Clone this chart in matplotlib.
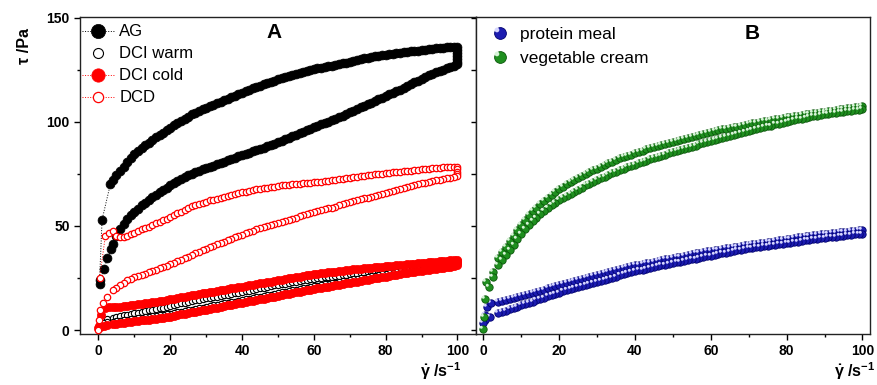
import matplotlib
matplotlib.use('Agg')
import matplotlib.pyplot as plt
from matplotlib.path import Path
from matplotlib.legend_handler import HandlerTuple

plt.rcParams['font.family'] = ['Liberation Sans', 'DejaVu Sans']
plt.rcParams['mathtext.fontset'] = 'custom'
plt.rcParams['mathtext.rm'] = 'Liberation Sans'
plt.rcParams['mathtext.bf'] = 'Liberation Sans:bold'
plt.rcParams['mathtext.it'] = 'Liberation Sans:italic'

# ---------------- data ----------------
rate = [4, 5, 6, 7, 8, 9, 10, 11, 12, 13, 14, 15, 16, 17, 18, 19, 20, 21, 22, 23, 24,
        25, 26, 27, 28, 29, 30, 31, 32, 33, 34, 35, 36, 37, 38, 39, 40, 41, 42, 43, 44,
        45, 46, 47, 48, 49, 50, 51, 52, 53, 54, 55, 56, 57, 58, 59, 60, 61, 62, 63, 64,
        65, 66, 67, 68, 69, 70, 71, 72, 73, 74, 75, 76, 77, 78, 79, 80, 81, 82, 83, 84,
        85, 86, 87, 88, 89, 90, 91, 92, 93, 94, 95, 96, 97, 98, 99, 100]

# Panel A
ag_up_low_x = [0.3, 1.0, 3.3]
ag_up_low = [24.0, 53.0, 70.0]
ag_up = [72, 74.3, 76.5, 78.5, 80.5, 82.5, 84.5, 86, 87.5, 88.8, 90, 91.3, 92.5, 93.7,
         94.8, 95.9, 97, 98.3, 99.5, 100.5, 101.5, 102.5, 103.5, 104.4, 105.3, 106.1,
         106.8, 107.5, 108.2, 109, 109.7, 110.4, 111.1, 111.8, 112.5, 113.2, 113.9,
         114.6, 115.3, 116, 116.6, 117.3, 117.9, 118.5, 119.1, 119.7, 120.3, 120.8,
         121.3, 121.9, 122.4, 122.9, 123.3, 123.8, 124.3, 124.8, 125.2, 125.6, 125.9,
         126.3, 126.6, 127, 127.3, 127.7, 128, 128.4, 128.8, 129.2, 129.6, 130, 130.4,
         130.8, 131.1, 131.4, 131.7, 132, 132.2, 132.4, 132.6, 132.9, 133.1, 133.4,
         133.6, 133.8, 134, 134.2, 134.4, 134.6, 134.8, 135, 135.2, 135.4, 135.5,
         135.7, 135.8, 135.9, 136]
ag_hold = [134.5, 133.0, 131.5, 130.0, 128.8]
ag_down = [41.5, 45, 48.3, 51, 53.5, 55.2, 56.8, 58.3, 59.8, 61.1, 62.4, 63.7, 65, 66.2,
           67.3, 68.4, 69.5, 70.6, 71.7, 72.6, 73.4, 74.2, 75, 75.8, 76.5, 77.2, 77.8,
           78.4, 79, 79.7, 80.3, 80.9, 81.5, 82.2, 82.8, 83.4, 84, 84.6, 85.2, 85.8,
           86.4, 87, 87.6, 88.2, 88.8, 89.4, 90.1, 90.8, 91.5, 92.2, 93, 93.7, 94.5,
           95.2, 95.9, 96.6, 97.3, 98, 98.7, 99.4, 100.1, 100.8, 101.5, 102.2, 103,
           103.7, 104.5, 105.3, 106.1, 106.9, 107.7, 108.4, 109.2, 110, 110.8, 111.5,
           112.3, 113.1, 113.9, 114.6, 115.4, 116.2, 117.1, 118, 118.9, 119.7, 120.6,
           121.5, 122.3, 123.1, 123.8, 124.4, 125, 125.6, 126.2, 126.8, 127.5]
ag_down_low_x = [0.3, 1.5, 2.5, 3.4]
ag_down_low = [22.0, 29.3, 34.4, 38.7]

warm_up_low_x = [0.5, 1.5, 2.5]
warm_up_low = [3.5, 4.8, 5.3]
warm_up = [5.8, 6.2, 6.6, 7, 7.3, 7.7, 8, 8.4, 8.7, 9.1, 9.4, 9.8, 10.1, 10.5, 10.8,
           11.2, 11.6, 12, 12.4, 12.8, 13.2, 13.6, 13.9, 14.3, 14.6, 14.9, 15.2, 15.5,
           15.8, 16.1, 16.4, 16.7, 17, 17.3, 17.6, 17.9, 18.2, 18.6, 18.9, 19.3, 19.6,
           20, 20.3, 20.7, 21, 21.4, 21.7, 22, 22.3, 22.6, 22.9, 23.2, 23.5, 23.8, 24.1,
           24.4, 24.7, 24.9, 25.1, 25.3, 25.5, 25.7, 25.9, 26.1, 26.3, 26.5, 26.7, 26.9,
           27.1, 27.3, 27.5, 27.7, 27.9, 28.1, 28.3, 28.5, 28.7, 28.9, 29.1, 29.3, 29.5,
           29.7, 29.9, 30.1, 30.3, 30.5, 30.7, 30.9, 31.1, 31.3, 31.4, 31.6, 31.8, 32,
           32.1, 32.3, 32.4]
warm_hold = []
warm_down = [4, 4.3, 4.5, 4.8, 5, 5.3, 5.5, 5.7, 5.9, 6.1, 6.3, 6.6, 6.8, 7.1, 7.3, 7.6,
             7.8, 8.2, 8.5, 8.8, 9.1, 9.5, 9.8, 10.1, 10.4, 10.8, 11.1, 11.5, 11.8, 12.1,
             12.4, 12.8, 13.1, 13.4, 13.7, 14.1, 14.4, 14.8, 15.1, 15.4, 15.7, 16.1,
             16.4, 16.7, 17, 17.4, 17.7, 18.1, 18.4, 18.7, 19, 19.4, 19.7, 20, 20.3, 20.7,
             21, 21.3, 21.6, 21.9, 22.2, 22.5, 22.8, 23.1, 23.4, 23.7, 24, 24.3, 24.6,
             24.9, 25.2, 25.5, 25.8, 26.1, 26.4, 26.7, 27, 27.3, 27.6, 27.9, 28.2, 28.5,
             28.7, 29, 29.2, 29.5, 29.7, 30, 30.3, 30.6, 30.8, 31.1, 31.3, 31.6, 31.8,
             32.1, 32.3]
warm_down_low_x = [0.3, 1.2, 2.5]
warm_down_low = [2.5, 3.2, 3.7]

cold_up_low_x = [0.2, 0.8, 1.8, 2.8]
cold_up_low = [2.0, 7.0, 10.8, 11.0]
cold_up = [10.9, 11.1, 11.2, 11.4, 11.6, 11.9, 12.1, 12.4, 12.6, 12.9, 13.1, 13.4,
           13.6, 13.9, 14.1, 14.4, 14.7, 15.1, 15.4, 15.8, 16.1, 16.4, 16.7, 17, 17.3,
           17.6, 17.9, 18.2, 18.5, 18.8, 19.1, 19.4, 19.7, 20, 20.3, 20.6, 20.9, 21.2,
           21.5, 21.8, 22.1, 22.4, 22.7, 23, 23.3, 23.6, 23.9, 24.2, 24.5, 24.8, 25.1,
           25.4, 25.7, 26, 26.3, 26.6, 26.9, 27.1, 27.3, 27.5, 27.7, 27.9, 28.1, 28.3,
           28.5, 28.7, 28.9, 29.1, 29.3, 29.5, 29.6, 29.8, 30, 30.2, 30.3, 30.5, 30.6,
           30.8, 30.9, 31.1, 31.2, 31.4, 31.5, 31.7, 31.8, 32, 32.1, 32.3, 32.5, 32.7,
           32.8, 33, 33.1, 33.3, 33.4, 33.6, 33.8]
cold_hold = [33.0, 32.2]
cold_down = [2.7, 3, 3.2, 3.5, 3.7, 4, 4.2, 4.4, 4.6, 4.8, 5, 5.3, 5.5, 5.8, 6, 6.3,
             6.5, 6.9, 7.2, 7.5, 7.8, 8.2, 8.5, 8.8, 9.1, 9.5, 9.8, 10.2, 10.5, 10.8,
             11.1, 11.5, 11.8, 12.1, 12.4, 12.8, 13.1, 13.5, 13.8, 14.1, 14.4, 14.8,
             15.1, 15.4, 15.7, 16.1, 16.4, 16.8, 17.1, 17.4, 17.7, 18.1, 18.4, 18.7, 19,
             19.4, 19.7, 20, 20.3, 20.6, 20.9, 21.2, 21.5, 21.8, 22.1, 22.4, 22.7, 23,
             23.3, 23.6, 23.9, 24.2, 24.5, 24.8, 25.1, 25.4, 25.7, 26, 26.3, 26.6, 26.9,
             27.2, 27.4, 27.7, 27.9, 28.2, 28.4, 28.7, 29, 29.3, 29.5, 29.8, 30, 30.3,
             30.5, 30.8, 31]
cold_down_low_x = [0.0, 0.5, 1.5, 2.5]
cold_down_low = [0.8, 1.5, 2.0, 2.4]

dcd_up_low_x = [0.3, 1.9, 3.0]
dcd_up_low = [25.0, 45.0, 46.8]
dcd_up = [47.5, 45.2, 44.5, 44.8, 45.3, 46, 46.8, 47.5, 48.3, 49, 49.7, 50.5, 51.2, 52,
          52.7, 53.5, 54.3, 55.1, 56, 56.9, 57.8, 58.6, 59.4, 60.1, 60.7, 61.2, 61.7,
          62.2, 62.6, 63.1, 63.6, 64.1, 64.5, 64.9, 65.3, 65.7, 66.1, 66.5, 66.9, 67.3,
          67.6, 67.9, 68.1, 68.4, 68.6, 68.9, 69.1, 69.4, 69.6, 69.8, 69.9, 70.1, 70.2,
          70.4, 70.6, 70.8, 70.9, 71.1, 71.2, 71.4, 71.6, 71.9, 72.1, 72.4, 72.7, 73,
          73.2, 73.5, 73.7, 73.9, 74.1, 74.3, 74.5, 74.7, 74.9, 75.1, 75.3, 75.5, 75.7,
          75.9, 76.1, 76.3, 76.4, 76.6, 76.8, 77, 77.2, 77.4, 77.5, 77.7, 77.8, 78,
          78.1, 78.2, 78.3, 78.4, 78.5]
dcd_hold = [77.3, 76.0, 74.8]
dcd_down = [19, 20.4, 21.7, 22.8, 23.8, 24.6, 25.3, 25.9, 26.5, 27.1, 27.7, 28.3, 29,
            29.6, 30.3, 30.9, 31.6, 32.3, 33, 33.8, 34.6, 35.3, 36.1, 36.8, 37.6, 38.3,
            39.1, 39.8, 40.5, 41.2, 41.9, 42.5, 43.2, 43.8, 44.5, 45.1, 45.8, 46.4, 47.1,
            47.7, 48.3, 48.8, 49.4, 49.9, 50.4, 51, 51.5, 52, 52.5, 53, 53.5, 54, 54.6,
            55.1, 55.6, 56.1, 56.6, 57, 57.5, 57.9, 58.4, 58.8, 59.3, 59.8, 60.3, 60.8,
            61.3, 61.8, 62.3, 62.7, 63.2, 63.6, 64.1, 64.5, 65, 65.4, 65.9, 66.3, 66.8,
            67.2, 67.7, 68.1, 68.6, 69, 69.5, 70, 70.4, 70.8, 71.2, 71.5, 71.9, 72.2,
            72.6, 72.9, 73.2, 73.5, 73.8]
dcd_down_low_x = [0.0, 0.1, 0.5, 1.3, 2.5]
dcd_down_low = [0.0, 5.0, 9.5, 12.8, 16.0]

# Panel B
veg_up_low_x = [0.0, 0.1, 0.4, 0.7, 2.5]
veg_up_low = [0.3, 6.4, 14.7, 23.0, 28.0]
veg_up = [34.5, 37.3, 40, 42.6, 45.2, 47.8, 50.4, 52.8, 55.2, 57, 58.8, 60.4, 61.9,
          63.4, 64.8, 66.2, 67.6, 68.8, 70, 71.1, 72.1, 73.1, 74.1, 75, 75.9, 76.7,
          77.5, 78.4, 79.2, 80, 80.8, 81.6, 82.4, 83, 83.6, 84.2, 84.8, 85.4, 86, 86.7,
          87.3, 87.8, 88.3, 88.8, 89.3, 89.8, 90.3, 90.8, 91.3, 91.8, 92.2, 92.7, 93.1,
          93.6, 94, 94.5, 95, 95.5, 95.9, 96.3, 96.6, 97, 97.3, 97.7, 98.1, 98.5, 98.8,
          99.2, 99.5, 99.9, 100.2, 100.5, 100.8, 101.2, 101.5, 101.8, 102.1, 102.4,
          102.6, 102.9, 103.2, 103.5, 103.7, 104, 104.3, 104.6, 104.8, 105.1, 105.4,
          105.7, 105.9, 106.2, 106.5, 106.8, 107, 107.3, 107.6]
veg_hold = []
veg_down = [31, 33.5, 36, 38.5, 41, 43.5, 46, 48.3, 50.5, 52.3, 54, 55.5, 57, 58.4,
            59.8, 61, 62.2, 63.2, 64.2, 65.3, 66.3, 67.4, 68.4, 69.4, 70.3, 71.2, 72,
            72.9, 73.7, 74.5, 75.3, 76.1, 76.8, 77.5, 78.1, 78.8, 79.4, 80, 80.6, 81.3,
            81.9, 82.5, 83.1, 83.7, 84.2, 84.8, 85.3, 85.9, 86.4, 87, 87.5, 88.1, 88.6,
            89.2, 89.7, 90.3, 90.8, 91.4, 91.9, 92.4, 92.8, 93.3, 93.7, 94.2, 94.6, 95.1,
            95.5, 96, 96.4, 96.9, 97.3, 97.8, 98.2, 98.7, 99.1, 99.6, 100, 100.4, 100.8,
            101.2, 101.5, 101.9, 102.2, 102.6, 103, 103.3, 103.6, 103.9, 104.1, 104.4,
            104.6, 104.9, 105.1, 105.3, 105.5, 105.8, 106]
veg_down_low_x = [1.6, 2.5]
veg_down_low = [20.8, 25.6]

prot_up_low_x = [0.4, 0.9, 2.0]
prot_up_low = [7.2, 11.2, 12.8]
prot_up = [13.6, 14, 14.4, 14.9, 15.3, 15.8, 16.3, 16.8, 17.3, 17.9, 18.4, 18.9, 19.4,
           20, 20.5, 21.1, 21.6, 22.2, 22.7, 23.2, 23.7, 24.2, 24.6, 25.1, 25.5, 26,
           26.4, 26.9, 27.3, 27.8, 28.2, 28.7, 29.2, 29.7, 30.1, 30.6, 31, 31.4, 31.7,
           32.1, 32.4, 32.8, 33.1, 33.5, 33.9, 34.3, 34.6, 35, 35.3, 35.7, 36.1, 36.5,
           36.8, 37.2, 37.5, 37.8, 38.1, 38.4, 38.6, 38.9, 39.2, 39.5, 39.7, 40, 40.3,
           40.6, 40.8, 41.1, 41.3, 41.6, 41.9, 42.2, 42.4, 42.7, 43, 43.3, 43.6, 43.9,
           44.2, 44.5, 44.8, 45, 45.2, 45.5, 45.7, 45.9, 46.1, 46.3, 46.5, 46.7, 46.9,
           47.1, 47.3, 47.5, 47.7, 47.9, 48]
prot_hold = []
prot_down = [8, 8.7, 9.3, 10, 10.6, 11.2, 11.8, 12.5, 13.1, 13.7, 14.3, 15, 15.6, 16.2,
             16.8, 17.4, 18, 18.6, 19.1, 19.7, 20.2, 20.7, 21.2, 21.7, 22.1, 22.6, 23.1,
             23.6, 24.1, 24.7, 25.2, 25.7, 26.2, 26.8, 27.3, 27.8, 28.3, 28.7, 29, 29.4,
             29.8, 30.2, 30.6, 31, 31.4, 31.8, 32.2, 32.6, 32.9, 33.3, 33.6, 34, 34.3,
             34.7, 35, 35.4, 35.7, 36.1, 36.4, 36.8, 37.1, 37.5, 37.8, 38.2, 38.5, 38.9,
             39.2, 39.5, 39.7, 40, 40.2, 40.5, 40.7, 41, 41.2, 41.5, 41.7, 42, 42.2, 42.5,
             42.7, 43, 43.2, 43.5, 43.7, 44, 44.2, 44.5, 44.7, 44.9, 45.1, 45.3, 45.5,
             45.7, 45.9, 46.1, 46.3]
prot_down_low_x = [0.0, 0.4, 1.8]
prot_down_low = [3.5, 5.0, 6.4]

x_ticks = [0, 20, 40, 60, 80, 100]
y_ticks = [0, 50, 100, 150]


def loop(up_lx, up_ly, up, hold, down, down_lx, down_ly):
    x = list(up_lx) + rate + [100] * len(hold) + rate[::-1] + list(down_lx)[::-1]
    y = list(up_ly) + list(up) + list(hold) + list(down)[::-1] + list(down_ly)[::-1]
    return x, y


W, H = 878, 385
fig = plt.figure(figsize=(W / 100, H / 100), dpi=100)
bottom = 1 - 334 / H
height = 317 / H
axA = fig.add_axes([80 / W, bottom, 396.5 / W, height])
axB = fig.add_axes([476.5 / W, bottom, 393.5 / W, height])

# ---------------- Panel A ----------------
x, y = loop(ag_up_low_x, ag_up_low, ag_up, ag_hold, ag_down, ag_down_low_x, ag_down_low)
axA.plot(x, y, ls=':', lw=0.7, color='black', marker='o', ms=6.4, mfc='black',
         mec='black', mew=0.5, label='AG', clip_on=False, zorder=3)
x, y = loop(warm_up_low_x, warm_up_low, warm_up, warm_hold, warm_down,
            warm_down_low_x, warm_down_low)
axA.plot(x, y, ls='none', color='black', marker='o', ms=4.5, mfc='white',
         mec='black', mew=0.8, label='DCI warm', clip_on=False, zorder=3)
x, y = loop(cold_up_low_x, cold_up_low, cold_up, cold_hold, cold_down,
            cold_down_low_x, cold_down_low)
axA.plot(x, y, ls=':', lw=0.7, color='red', marker='o', ms=6.0, mfc='red',
         mec='red', mew=0.5, label='DCI cold', clip_on=False, zorder=3)
x, y = loop(dcd_up_low_x, dcd_up_low, dcd_up, dcd_hold, dcd_down,
            dcd_down_low_x, dcd_down_low)
axA.plot(x, y, ls=':', lw=0.7, color='red', marker='o', ms=4.6, mfc='white',
         mec='red', mew=0.9, label='DCD', clip_on=False, zorder=3)

axA.legend(loc='upper left', bbox_to_anchor=(0.0, 0.982), frameon=False,
           fontsize=12, numpoints=1, markerscale=1.6, handlelength=2.0,
           handletextpad=0.25, labelspacing=0.42, borderaxespad=0, borderpad=0.1)

# ---------------- Panel B ----------------
hl_path = Path.circle(center=(-0.3, 0.3), radius=0.2)

x, y = loop(prot_up_low_x, prot_up_low, prot_up, prot_hold, prot_down,
            prot_down_low_x, prot_down_low)
pb, = axB.plot(x, y, ls='none', marker='o', ms=5.3, mfc='#1c1cb0', mec='#00006e',
               mew=0.6, clip_on=False, zorder=3)
ph, = axB.plot(x, y, ls='none', marker=hl_path, ms=5.3, mfc='#d6d6ff', mec='none',
               mew=0, clip_on=False, zorder=3)
x, y = loop(veg_up_low_x, veg_up_low, veg_up, veg_hold, veg_down,
            veg_down_low_x, veg_down_low)
gb, = axB.plot(x, y, ls='none', marker='o', ms=5.3, mfc='#1f8f1f', mec='#0a560a',
               mew=0.6, clip_on=False, zorder=4)
gh, = axB.plot(x, y, ls='none', marker=hl_path, ms=5.3, mfc='#d8f4d8', mec='none',
               mew=0, clip_on=False, zorder=4)

axB.legend([(pb, ph), (gb, gh)], ['protein meal', 'vegetable cream'],
           handler_map={tuple: HandlerTuple(ndivide=1)},
           loc='upper left', bbox_to_anchor=(0.034, 0.975), frameon=False,
           fontsize=12.5, numpoints=1, markerscale=1.6, handlelength=1.0,
           handletextpad=0.65, labelspacing=0.5, borderaxespad=0, borderpad=0.1)

# ---------------- axes styling ----------------
for ax, xl in ((axA, (-5.15, 105.3)), (axB, (-1.8, 102.0))):
    ax.set_xlim(*xl)
    ax.set_ylim(-1.9, 150.3)
    ax.set_xticks(x_ticks)
    ax.set_xticks([10, 30, 50, 70, 90], minor=True)
    ax.set_yticks(y_ticks)
    ax.set_yticks([25, 75, 125], minor=True)
    ax.tick_params(which='both', direction='out', top=False, right=False,
                   width=1.0, colors='black', labelsize=10, pad=3)
    ax.tick_params(which='major', length=4.5)
    ax.tick_params(which='minor', length=2.5)
    for s in ax.spines.values():
        s.set_linewidth(1.0)
        s.set_color('#222222')
    for lab in ax.get_xticklabels() + ax.get_yticklabels():
        lab.set_fontweight('bold')

axB.tick_params(axis='y', which='both', labelleft=False, length=3.5)

axA.text(0.4905, 0.951, 'A', transform=axA.transAxes, ha='center', va='center',
         fontsize=15, fontweight='bold')
axB.text(0.7014, 0.947, 'B', transform=axB.transAxes, ha='center', va='center',
         fontsize=15, fontweight='bold')

xlab = r'$\mathbf{\dot{\gamma}\ /s^{-1}}$'
fig.text(441 / W, 1 - 371 / H, xlab, ha='center', va='center', fontsize=11.5)
fig.text(855 / W, 1 - 371 / H, xlab, ha='center', va='center', fontsize=11.5)
fig.text(25 / W, 1 - 46 / H, 'τ /Pa', rotation=90, ha='center', va='center',
         fontsize=11.5, fontweight='bold')

fig.savefig('out.png', dpi=100)
